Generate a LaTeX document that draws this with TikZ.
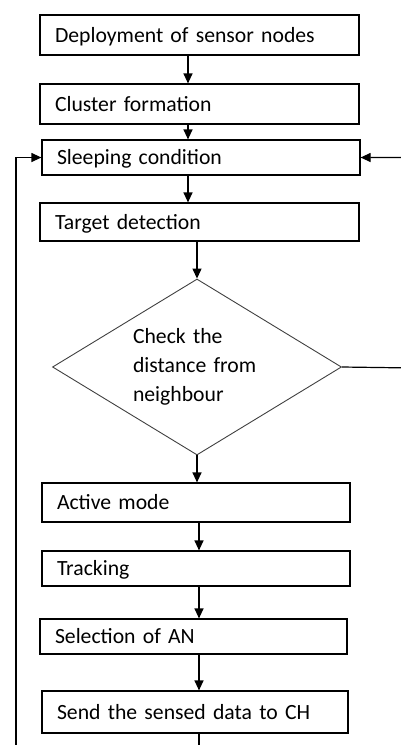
\documentclass[tikz,border=0pt]{standalone}
\usepackage{fontspec}
\setmainfont{Carlito}
\usetikzlibrary{arrows.meta,positioning,shapes.geometric}
\tikzset{stepbox/.style={draw=black,line width=1.2pt,rectangle,minimum width=#1,text width=#1-30pt,inner xsep=15pt,inner ysep=0pt,align=left,font=\fontsize{21.7}{29}\selectfont,text height=14pt,text depth=0pt},decision/.style={diamond,aspect=1.64,draw=black!75,line width=.9pt,minimum width=289pt,minimum height=176pt,inner sep=0pt,text width=128pt,align=left,font=\fontsize{21.7}{29}\selectfont},flowline/.style={draw=black,line width=1.2pt,-{Triangle[length=10pt,width=9pt]}}}

\begin{document}
\begin{tikzpicture}[x=1pt,y=-1pt]
\useasboundingbox (0,0) rectangle (401,745);
\coordinate (topspine) at (188,0);
\coordinate (lowspine) at (199,0);
\coordinate (rloop) at (414,368);
\coordinate (lloop) at (16,765);
\node[stepbox=319pt,minimum height=40pt] (deploy) at (199.5,35) {Deployment of sensor nodes};
\node[stepbox=319pt,minimum height=40pt] (cluster) at (199.5,104) {Cluster formation};
\node[stepbox=318pt,minimum height=35pt] (sleep) at (201,157.5) {Sleeping condition};
\node[stepbox=319pt,minimum height=38pt] (detect) at (199.5,222) {Target detection};
\node[decision] (check) at (197,367) {Check the\\distance from\\neighbour};
\node[stepbox=308pt,minimum height=39pt] (active) at (196,502.5) {Active mode};
\node[stepbox=308pt,minimum height=35pt] (track) at (196,568.5) {Tracking};
\node[stepbox=307pt,minimum height=35pt] (select) at (193.5,636.5) {Selection of AN};
\node[stepbox=306pt,minimum height=42pt] (send) at (195,712) {Send the sensed data to CH};
% main flow
\draw[flowline] (deploy.south -| topspine) -- (cluster.north -| topspine);
\draw[flowline] (cluster.south -| topspine) -- (sleep.north -| topspine);
\draw[flowline] (sleep.south -| topspine) -- (detect.north -| topspine);
\draw[flowline] (detect.south -| check.north) -- (check.north);
\draw[flowline] (check.south) -- (check.south |- active.north);
\draw[flowline] (active.south -| lowspine) -- (track.north -| lowspine);
\draw[flowline] (track.south -| lowspine) -- (select.north -| lowspine);
\draw[flowline] (select.south -| lowspine) -- (send.north -| lowspine);
% loops back to sleeping
\draw[flowline] (check.east) -- (rloop) |- (sleep.east);
\draw[flowline] (send.south -| lowspine) -- (lowspine |- lloop) -- (lloop) |- (sleep.west);
\end{tikzpicture}
\end{document}
